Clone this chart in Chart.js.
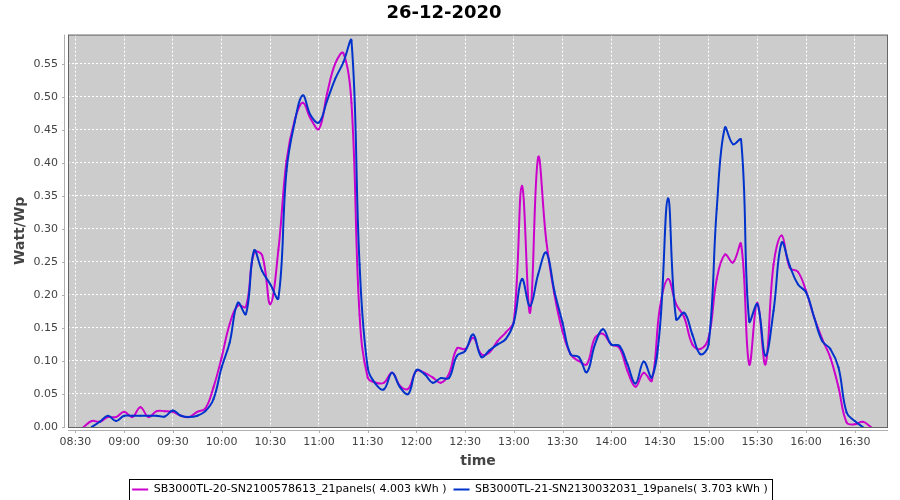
<!DOCTYPE html>
<html>
<head>
<meta charset="utf-8">
<script src="https://cdn.jsdelivr.net/npm/chart.js@4.4.1/dist/chart.umd.min.js"></script>
<style>
  html, body { margin: 0; padding: 0; background: #fff; }
  #wrap { width: 900px; height: 500px; }
</style>
</head>
<body>
<div id="wrap"><canvas id="pvChart"></canvas></div>
<script>
// sample times (every 5 minutes)
const TIMES = [
  '08:35','08:40','08:45','08:50','08:55','09:00','09:05','09:10','09:15','09:20','09:25','09:30',
  '09:35','09:40','09:45','09:50','09:55','10:00','10:05','10:10','10:15','10:20','10:25','10:30',
  '10:35','10:40','10:45','10:50','10:55','11:00','11:05','11:10','11:15','11:20','11:25','11:30',
  '11:35','11:40','11:45','11:50','11:55','12:00','12:05','12:10','12:15','12:20','12:25','12:30',
  '12:35','12:40','12:45','12:50','12:55','13:00','13:05','13:10','13:15','13:20','13:25','13:30',
  '13:35','13:40','13:45','13:50','13:55','14:00','14:05','14:10','14:15','14:20','14:25','14:30',
  '14:35','14:40','14:45','14:50','14:55','15:00','15:05','15:10','15:15','15:20','15:25','15:30',
  '15:35','15:40','15:45','15:50','15:55','16:00','16:05','16:10','16:15','16:20','16:25','16:30',
  '16:35','16:40'
];

// SB3000TL-20 (21 panels)
const INV20 = [
  0.000,0.009,0.008,0.015,0.015,0.023,0.015,0.030,0.015,0.024,0.024,0.023,
  0.017,0.015,0.023,0.028,0.060,0.105,0.156,0.184,0.182,0.264,0.260,0.186,
  0.268,0.403,0.464,0.491,0.466,0.451,0.505,0.550,0.566,0.491,0.170,0.075,
  0.067,0.067,0.082,0.062,0.058,0.085,0.082,0.075,0.067,0.080,0.119,0.118,
  0.135,0.110,0.113,0.130,0.143,0.160,0.365,0.173,0.408,0.282,0.201,0.145,
  0.110,0.100,0.095,0.135,0.141,0.125,0.120,0.085,0.061,0.082,0.070,0.181,
  0.224,0.186,0.166,0.125,0.118,0.135,0.224,0.261,0.249,0.277,0.095,0.188,
  0.095,0.246,0.290,0.241,0.235,0.206,0.166,0.133,0.105,0.060,0.007,0.004,
  0.008,0.000
];

// SB3000TL-21 (19 panels)
const INV21 = [
  null, 0.000,0.008,0.017,0.009,0.017,0.017,0.017,0.017,0.017,0.016,0.025,
  0.017,0.015,0.017,0.024,0.042,0.090,0.128,0.188,0.171,0.267,0.236,0.216,
  0.195,0.388,0.461,0.502,0.471,0.461,0.494,0.527,0.552,0.585,0.246,0.090,
  0.065,0.057,0.082,0.060,0.050,0.086,0.080,0.067,0.074,0.074,0.108,0.115,
  0.140,0.106,0.116,0.125,0.133,0.158,0.224,0.183,0.231,0.264,0.206,0.158,
  0.110,0.106,0.083,0.125,0.148,0.125,0.123,0.095,0.066,0.099,0.075,0.150,
  0.346,0.163,0.173,0.140,0.110,0.125,0.330,0.453,0.428,0.435,0.160,0.186,
  0.108,0.176,0.279,0.244,0.216,0.204,0.166,0.130,0.118,0.090,0.022,0.009,
  0.000,null
];

const SERIES_NAMES = [
  'SB3000TL-20-SN2100578613_21panels( 4.003 kWh )',
  'SB3000TL-21-SN2130032031_19panels( 3.703 kWh )'
];

const X_TICK_LABELS = ['08:30','09:00','09:30','10:00','10:30','11:00','11:30','12:00','12:30',
  '13:00','13:30','14:00','14:30','15:00','15:30','16:00','16:30'];
const Y_TICKS = [0, 0.05, 0.10, 0.15, 0.20, 0.25, 0.30, 0.35, 0.40, 0.45, 0.50, 0.55];

function toMinutes(s) {
  const p = s.split(':');
  return parseInt(p[0], 10) * 60 + parseInt(p[1], 10);
}

function points(values) {
  const out = [];
  values.forEach((v, i) => {
    if (v !== null) out.push({ x: toMinutes(TIMES[i]), y: v });
  });
  return out;
}

const xTickValues = X_TICK_LABELS.map(toMinutes);
const FONT = 'DejaVu Sans';

// grey plot background, outline, offset axis lines, legend frame
const frame = {
  id: 'frame',
  afterLayout(chart) {
    // legend sits a little right of the plot centre
    chart.legend.left += 6;
    chart.legend.right += 6;
  },
  beforeDraw(chart) {
    const a = chart.chartArea;
    const ctx = chart.ctx;
    ctx.save();
    ctx.fillStyle = '#cccccc';
    ctx.fillRect(a.left, a.top, a.right - a.left, a.bottom - a.top);
    ctx.restore();
  },
  afterDraw(chart) {
    const a = chart.chartArea;
    const ctx = chart.ctx;
    ctx.save();
    ctx.strokeStyle = '#666666';
    ctx.lineWidth = 1;
    ctx.strokeRect(a.left + 0.5, a.top + 0.5, a.right - a.left - 1, a.bottom - a.top);

    // offset axis lines with small tick marks
    ctx.strokeStyle = '#b0b0b0';
    ctx.beginPath();
    ctx.moveTo(a.left - 3.5, a.top);
    ctx.lineTo(a.left - 3.5, a.bottom + 1);
    ctx.moveTo(a.left, a.bottom + 3.5);
    ctx.lineTo(a.right, a.bottom + 3.5);
    const ys = chart.scales.y, xs = chart.scales.x;
    ys.ticks.forEach(t => {
      const py = Math.round(ys.getPixelForValue(t.value)) + 0.5;
      ctx.moveTo(a.left - 6, py);
      ctx.lineTo(a.left - 3.5, py);
    });
    xs.ticks.forEach(t => {
      const px = Math.round(xs.getPixelForValue(t.value)) + 0.5;
      ctx.moveTo(px, a.bottom + 3.5);
      ctx.lineTo(px, a.bottom + 6);
    });
    ctx.stroke();

    // legend frame
    const boxes = chart.legend.legendHitBoxes;
    if (boxes && boxes.length) {
      const first = boxes[0], last = boxes[boxes.length - 1];
      const l = first.left - 3, r = last.left + last.width + 4;
      const t = first.top - 5, b = first.top + first.height + 5;
      ctx.strokeStyle = '#000';
      ctx.strokeRect(Math.round(l) + 0.5, Math.round(t) + 0.5, Math.round(r - l), Math.round(b - t));
    }
    ctx.restore();
  }
};

const ctx = document.getElementById('pvChart').getContext('2d');
new Chart(ctx, {
  type: 'line',
  data: {
    datasets: [
      {
        label: SERIES_NAMES[0],
        data: points(INV20),
        borderColor: '#cc00cc',
        backgroundColor: '#cc00cc',
        borderWidth: 2,
        pointRadius: 1,
        pointBorderWidth: 0,
        tension: 0.4,
        order: 1
      },
      {
        label: SERIES_NAMES[1],
        data: points(INV21),
        borderColor: '#0033cc',
        backgroundColor: '#0033cc',
        borderWidth: 2,
        pointRadius: 1,
        pointBorderWidth: 0,
        tension: 0.4,
        order: 0
      }
    ]
  },
  options: {
    responsive: true,
    maintainAspectRatio: false,
    animation: false,
    layout: { padding: { top: 0, right: 12, bottom: -5, left: 0 } },
    plugins: {
      title: {
        display: true,
        text: '26-12-2020',
        color: '#000',
        font: { family: FONT, size: 18, weight: 'bold' },
        padding: { top: 3, bottom: 10 }
      },
      legend: {
        position: 'bottom',
        labels: {
          color: '#222',
          font: { family: FONT, size: 11 },
          boxWidth: 16,
          boxHeight: 2,
          padding: 7,
          generateLabels(chart) {
            return chart.data.datasets.map((ds, i) => ({
              text: ds.label,
              fillStyle: ds.borderColor,
              strokeStyle: ds.borderColor,
              lineWidth: 0,
              hidden: false,
              datasetIndex: i
            }));
          }
        }
      },
      tooltip: { enabled: false }
    },
    scales: {
      x: {
        type: 'linear',
        min: 505.4,
        max: 1010.5,
        afterBuildTicks(scale) {
          scale.ticks = xTickValues.map(v => ({ value: v }));
        },
        afterFit(scale) { scale.height = 50; },
        grid: { color: '#ffffff', lineWidth: 1, drawTicks: false },
        border: { display: false, dash: [2, 2] },
        ticks: {
          color: '#444',
          font: { family: FONT, size: 11 },
          padding: 9,
          maxRotation: 0,
          autoSkip: false,
          callback(value, index) { return X_TICK_LABELS[index]; }
        },
        title: {
          display: true,
          text: 'time',
          color: '#444',
          font: { family: FONT, size: 14, weight: 'bold' },
          padding: { top: 0, bottom: 7 }
        }
      },
      y: {
        min: 0,
        max: 0.594,
        afterBuildTicks(scale) {
          scale.ticks = Y_TICKS.map(v => ({ value: v }));
        },
        afterFit(scale) { scale.width = 68; },
        grid: { color: '#ffffff', lineWidth: 1, drawTicks: false },
        border: { display: false, dash: [2, 2] },
        ticks: {
          color: '#444',
          font: { family: FONT, size: 11 },
          padding: 10,
          callback(value) { return Number(value).toFixed(2); }
        },
        title: {
          display: true,
          text: 'Watt/Wp',
          color: '#444',
          font: { family: FONT, size: 14, weight: 'bold' },
          padding: { top: 12, bottom: 0 }
        }
      }
    }
  },
  plugins: [frame]
});
</script>
</body>
</html>
